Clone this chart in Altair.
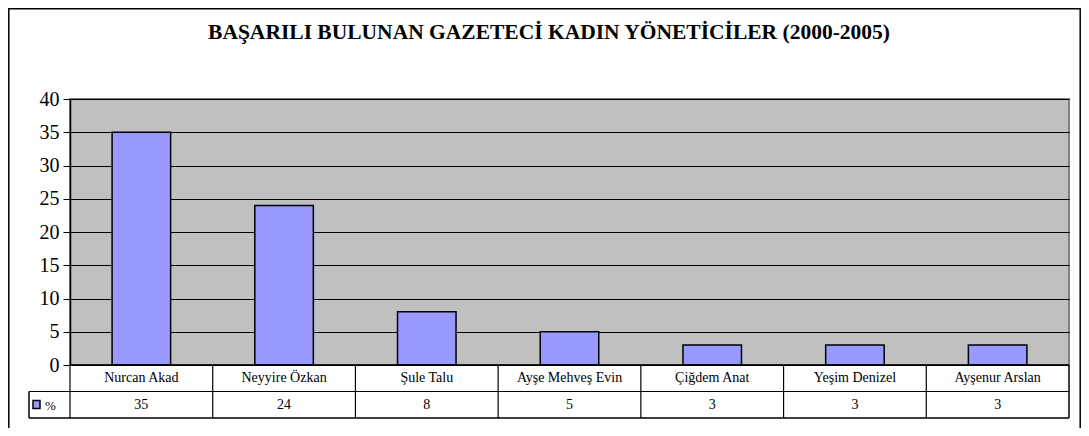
import altair as alt
import pandas as pd

# ---- data ----
names = ["Nurcan Akad", "Neyyire Özkan", "Şule Talu", "Ayşe Mehveş Evin",
         "Çiğdem Anat", "Yeşim Denizel", "Ayşenur Arslan"]
values = [35, 24, 8, 5, 3, 3, 3]
y_ticks = [0, 5, 10, 15, 20, 25, 30, 35, 40]
series_label = "%"
title_text = "BAŞARILI BULUNAN GAZETECİ KADIN YÖNETİCİLER (2000-2005)"

# ---- layout ----
W, H = 999, 266
ROW = 26.5
LEG = 41
FONT = "Times New Roman, Liberation Serif, DejaVu Serif, serif"
BAR = "#9999FF"

df = pd.DataFrame({"name": names, "value": values})
one = pd.DataFrame({"label": [series_label], "title": [title_text]})

xs = alt.X("name:N", sort=names,
           scale=alt.Scale(paddingInner=0, paddingOuter=0), axis=None)

outer = alt.Chart(one).mark_rect(fillOpacity=0, stroke="black", strokeWidth=1.5).encode(
    x=alt.value(-61.2), x2=alt.value(1010.2), y=alt.value(-90.2), y2=alt.value(400)
)

title = alt.Chart(one).mark_text(font=FONT, fontSize=21.5, fontWeight="bold",
                                 align="center", baseline="alphabetic", color="black").encode(
    x=alt.value(479), y=alt.value(-60.3), text="title:N"
)

bars = alt.Chart(df).mark_bar(width=alt.RelativeBandSize(0.41), fill=BAR,
                              stroke="black", strokeWidth=1.5).encode(
    x=xs,
    y=alt.Y("value:Q",
            scale=alt.Scale(domain=[0, 40], nice=False),
            axis=alt.Axis(values=y_ticks, grid=True, gridColor="black", gridWidth=1,
                          gridOpacity=1, tickColor="black", tickSize=7, tickWidth=1,
                          domainColor="black", domainWidth=1.5,
                          labelFont=FONT, labelFontSize=20, labelColor="black",
                          labelPadding=4, title=None)),
)

base_rule = alt.Chart(one).mark_rule(color="black", strokeWidth=1.5).encode(
    x=alt.value(0), x2=alt.value(W), y=alt.value(H)
)
h1 = alt.Chart(one).mark_rule(color="black", strokeWidth=1.2).encode(
    x=alt.value(-LEG), x2=alt.value(W), y=alt.value(H + ROW)
)
h2 = alt.Chart(one).mark_rule(color="black", strokeWidth=1.5).encode(
    x=alt.value(-LEG), x2=alt.value(W), y=alt.value(H + 2 * ROW)
)
vleft = alt.Chart(one).mark_rule(color="black", strokeWidth=1.5).encode(
    x=alt.value(-LEG), y=alt.value(H + ROW), y2=alt.value(H + 2 * ROW)
)
vright = alt.Chart(one).mark_rule(color="black", strokeWidth=1.5).encode(
    x=alt.value(W), y=alt.value(H), y2=alt.value(H + 2 * ROW)
)
vcats = alt.Chart(df).mark_rule(color="black", strokeWidth=1.2).encode(
    x=alt.X("name:N", sort=names, bandPosition=0,
            scale=alt.Scale(paddingInner=0, paddingOuter=0), axis=None),
    y=alt.value(H), y2=alt.value(H + 2 * ROW)
)

cat_text = alt.Chart(df).mark_text(font=FONT, fontSize=14, color="black",
                                   baseline="middle", align="center").encode(
    x=xs, y=alt.value(H + ROW / 2), text="name:N"
)
val_text = alt.Chart(df).mark_text(font=FONT, fontSize=14, color="black",
                                   baseline="middle", align="center").encode(
    x=xs, y=alt.value(H + ROW * 1.5), text="value:Q"
)

swatch = alt.Chart(one).mark_rect(fill=BAR, stroke="black", strokeWidth=1.5).encode(
    x=alt.value(-37), x2=alt.value(-30), y=alt.value(H + ROW + 9), y2=alt.value(H + ROW + 17)
)
leg_text = alt.Chart(one).mark_text(font=FONT, fontSize=13, color="black",
                                    align="left", baseline="middle").encode(
    x=alt.value(-25), y=alt.value(H + ROW * 1.5 + 1), text="label:N"
)

chart = alt.layer(
    outer, title, bars, base_rule, h1, h2, vleft, vright, vcats,
    cat_text, val_text, swatch, leg_text
).properties(
    width=W, height=H,
    autosize=alt.AutoSizeParams(type="none"),
    padding={"left": 62, "top": 91, "right": 12, "bottom": 63},
    background="white",
).configure_view(
    fill="#C0C0C0", stroke="#808080", strokeWidth=2
)

chart.save("out.html", embed_options={"renderer": "svg", "actions": False})
